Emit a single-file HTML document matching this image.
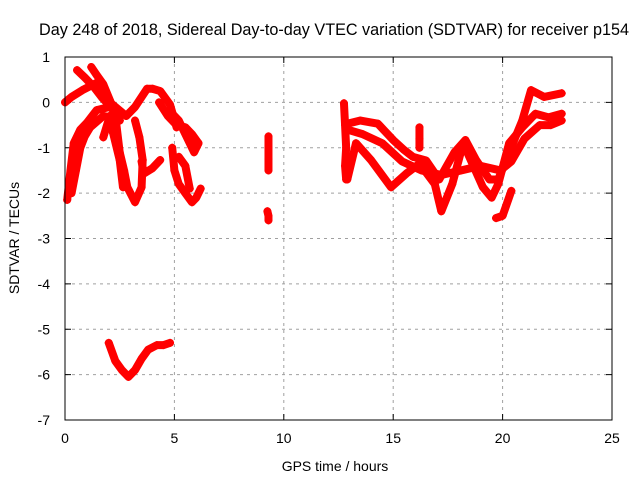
<!DOCTYPE html>
<html><head><meta charset="utf-8"><style>
body{margin:0;background:#fff}
svg{display:block;font-family:"Liberation Sans",sans-serif}
</style></head><body>
<svg id="chart" width="640" height="480" viewBox="0 0 640 480" xmlns="http://www.w3.org/2000/svg">
<rect width="640" height="480" fill="#fff"/>
<text x="334" y="35" font-size="16.2" text-anchor="middle">Day 248 of 2018, Sidereal Day-to-day VTEC variation (SDTVAR) for receiver p154</text>
<text transform="translate(19,238) rotate(-90)" font-size="14" text-anchor="middle">SDTVAR / TECUs</text>
<text x="335" y="471" font-size="14" text-anchor="middle">GPS time / hours</text>
<g id="grid"></g>
<g id="ticks"></g>
<g id="marks"></g>
<rect x="65" y="57" width="547" height="363" fill="none" stroke="#000" stroke-width="1"/>
</svg>
<script>
const xTicks=[0,5,10,15,20,25];
const yTicks=[1,0,-1,-2,-3,-4,-5,-6,-7];
const track1=[[0.1,-2.15],[0.25,-1.5],[0.4,-0.9],[0.7,-0.6],[1.0,-0.45],[1.45,-0.17],[2.05,-0.1],[2.5,-0.3]];
const track2=[[0.3,-2.0],[0.5,-1.5],[0.7,-1.0],[0.9,-0.75],[1.15,-0.55],[1.75,-0.3],[2.3,-0.35]];
const track3=[[0,0.0],[0.3,0.12],[0.8,0.27],[1.45,0.43],[2.05,0.0],[2.8,-0.3],[3.2,-0.1],[3.75,0.3],[4.0,0.3],[4.35,0.25],[4.8,-0.05],[5.1,-0.55]];
const track4=[[0.55,0.71],[0.9,0.55],[1.3,0.35],[1.7,0.1],[2.1,-0.1],[2.5,-0.4]];
const track5=[[1.2,0.78],[1.45,0.6],[1.75,0.4],[2.05,0.05],[2.3,-0.25],[2.5,-0.4]];
const track6=[[2.3,-0.3],[2.5,-1.1],[2.7,-1.5],[2.85,-1.87],[3.2,-2.2],[3.5,-1.87],[3.55,-1.27],[3.4,-0.77],[3.2,-0.4]];
const track7=[[2.05,-0.3],[2.2,-0.68],[2.5,-1.27],[2.65,-1.87]];
const track8=[[2.05,-0.3],[1.75,-0.77]];
const track9=[[3.5,-1.3],[3.6,-1.57],[4.0,-1.45],[4.35,-1.27]];
const track10=[[4.3,0.0],[4.7,-0.3],[5.1,-0.5],[5.5,-0.55],[5.8,-0.7],[6.1,-0.9]];
const track11=[[4.8,-0.2],[5.2,-0.4],[5.6,-0.8],[5.9,-1.1],[6.1,-0.9]];
const track12=[[4.9,-1.0],[5.0,-1.5],[5.2,-1.8],[5.5,-2.0],[5.8,-2.2],[6.0,-2.1],[6.2,-1.9]];
const track13=[[5.2,-1.2],[5.5,-1.4],[5.7,-1.9]];
const track14=[[9.3,-0.75],[9.3,-1.0],[9.3,-1.25],[9.3,-1.5]];
const track15=[[9.25,-2.4],[9.3,-2.5],[9.3,-2.6]];
const track16=[[2.0,-5.3],[2.3,-5.7],[2.6,-5.9],[2.9,-6.05],[3.2,-5.9],[3.5,-5.65],[3.8,-5.45],[4.2,-5.35],[4.5,-5.35],[4.8,-5.3]];
const track17=[[12.75,-0.02],[12.8,-0.5],[12.85,-1.0],[12.8,-1.4],[12.85,-1.7]];
const track18=[[12.9,-0.47],[13.5,-0.4],[14.3,-0.47],[15.0,-0.83],[15.5,-1.05],[15.9,-1.2],[16.5,-1.28],[17.1,-1.7],[17.8,-1.1],[18.3,-0.83],[18.8,-1.28],[19.4,-1.7],[19.8,-1.7],[20.3,-1.1],[20.9,-0.4],[21.3,0.27],[21.9,0.12],[22.7,0.2]];
const track19=[[12.9,-1.7],[13.3,-0.9],[14.0,-1.28],[14.9,-1.87],[15.6,-1.57],[16.2,-1.35],[16.9,-1.8],[17.2,-2.4],[17.7,-1.8],[18.2,-0.9],[19.1,-1.87],[19.5,-2.1],[19.8,-1.8],[20.3,-0.9],[20.9,-0.55],[21.5,-0.25],[22.1,-0.33],[22.7,-0.25]];
const track20=[[19.7,-2.55],[20.0,-2.5],[20.4,-1.95]];
const track21=[[16.2,-0.55],[16.2,-0.8],[16.2,-1.0]];
const track22=[[12.9,-0.6],[13.6,-0.7],[14.5,-0.9],[15.4,-1.3],[16.3,-1.5],[17.2,-1.6],[18.1,-1.5],[19.0,-1.4],[19.9,-1.5],[20.4,-1.3],[21.0,-0.8],[21.7,-0.5],[22.2,-0.5],[22.7,-0.4]];
const tracks=[track1,track2,track3,track4,track5,track6,track7,track8,track9,track10,track11,track12,track13,track14,track15,track16,track17,track18,track19,track20,track21,track22];

const X0=65,X1=612,Y0=420,Y1=57;
function xs(h){return X0+(h-0)/(25-0)*(X1-X0);}
function ys(v){return Y0-(v-(-7))/(1-(-7))*(Y0-Y1);}
const NS='http://www.w3.org/2000/svg';
const grid=document.getElementById('grid'),ticks=document.getElementById('ticks'),marks=document.getElementById('marks');
function mk(t,a,p){const e=document.createElementNS(NS,t);for(const k in a)e.setAttribute(k,a[k]);p.appendChild(e);return e;}
xTicks.forEach(t=>{const x=xs(t);
 if(t>0&&t<25){const g=mk('line',{x1:x,x2:x,y1:Y1,y2:Y0,stroke:'#a0a0a0','stroke-dasharray':'3,4'},grid);
 
 }
 const l=mk('text',{x:x,y:443,'font-size':14,'text-anchor':'middle'},ticks);l.textContent=t;
 
 
 mk('line',{x1:x,x2:x,y1:Y0,y2:Y0-6,stroke:'#000'},ticks);mk('line',{x1:x,x2:x,y1:Y1,y2:Y1+6,stroke:'#000'},ticks);});
yTicks.forEach(t=>{const y=ys(t);
 if(t<1&&t>-7){const g=mk('line',{x1:X0,x2:X1,y1:y,y2:y,stroke:'#a0a0a0','stroke-dasharray':'3,4'},grid);
 
 }
 const l=mk('text',{x:50,y:y+5,'font-size':14,'text-anchor':'end'},ticks);l.textContent=t;
 
 
 mk('line',{x1:X0,x2:X0+6,y1:y,y2:y,stroke:'#000'},ticks);mk('line',{x1:X1,x2:X1-6,y1:y,y2:y,stroke:'#000'},ticks);});
tracks.forEach((tr,i)=>{
 const pl=mk('polyline',{points:tr.map(p=>xs(p[0])+','+ys(p[1])).join(' '),fill:'none',stroke:'#f00','stroke-width':8,'stroke-linejoin':'round','stroke-linecap':'round'},marks);
 
 
 tr.forEach(p=>{const x=xs(p[0]),y=ys(p[1]);
  const m=mk('path',{d:`M${x-4},${y}h8M${x},${y-4}v8`,stroke:'#f00','stroke-width':1.5},marks);
  
  });
});
</script>
</body></html>
